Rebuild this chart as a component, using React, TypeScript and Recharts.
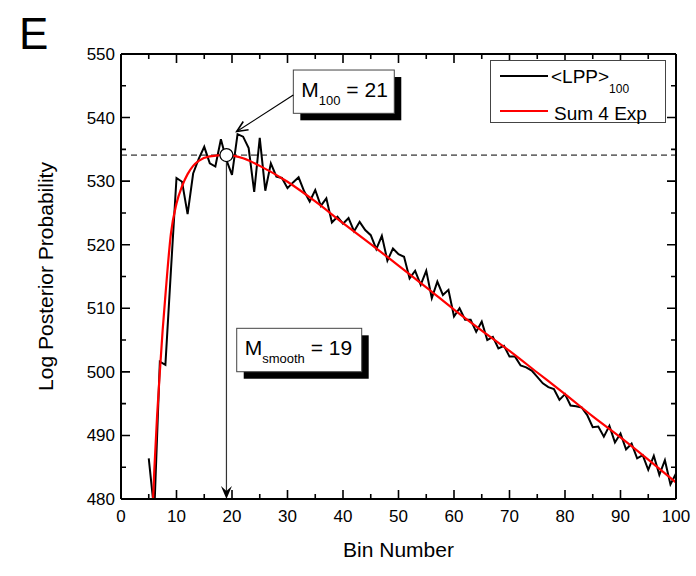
import {
  LineChart,
  Line,
  XAxis,
  YAxis,
  ReferenceLine,
  ReferenceDot,
  ReferenceArea,
  Legend,
} from "recharts";

const FONT = "'Liberation Sans', Arial, Helvetica, sans-serif";

// <LPP>_100, one value per bin starting at bin 5
const lppStartBin = 5;
const lppValues = [
  486.4, 478, 501.6, 501.1, 516, 530.5, 529.9, 524.8, 531.2, 533.5,
  535.4, 532.8, 532.3, 536.6, 533.3, 531, 537.4, 537, 535.2, 528.3,
  536.8, 528.5, 532.8, 530.7, 530.5, 528.9, 529.8, 530.6, 528.4, 526.8,
  528.6, 526.1, 527.3, 523.5, 524.4, 523.3, 524.2, 522.1, 523.6, 522.3,
  521.5, 519.3, 521.4, 517.5, 519.4, 518.5, 518.1, 514.7, 515.9, 513.7,
  515.9, 511.6, 514.2, 512.1, 512.9, 508.7, 510, 508.2, 508.2, 506.3,
  507.9, 505, 505.5, 503.7, 504.1, 502.4, 502.4, 501, 500.7, 500.2,
  499.2, 498.2, 497.6, 497.3, 495.6, 496.5, 494.7, 494.6, 494.4, 493.2,
  491.3, 491.4, 489.8, 491.5, 488.9, 490.3, 487.8, 488.7, 486.4, 486.9,
  484.6, 486.8, 483.8, 486.1, 482.3, 484,
];

// Sum 4 Exp fit, read at these bins
const fitBins = [
  5.5, 6, 6.5, 7, 7.5, 8, 9, 10, 11, 12, 13, 14, 16, 19, 22, 25, 30, 35, 40,
  45, 50, 55, 60, 65, 70, 75, 80, 85, 90, 95, 100,
];
const fitValues = [
  474, 484.5, 493, 500, 506.5, 512, 521.8, 526.5, 529.2, 531.1, 532.4, 533.2,
  533.9, 534.1, 533.6, 532.4, 529.9, 526.8, 523.4, 520.1, 516.7, 513.3, 509.8,
  506.5, 503.3, 499.9, 496.5, 493.0, 489.7, 486.2, 482.6,
];

const xTicks = [0, 5, 10, 15, 20, 25, 30, 35, 40, 45, 50, 55, 60, 65, 70, 75, 80, 85, 90, 95, 100];
const yTicks = [480, 485, 490, 495, 500, 505, 510, 515, 520, 525, 530, 535, 540, 545, 550];
const xDomain = [0, 100];
const yDomain = [480, 550];

const maxLevel = 534.1;
const mSmooth = 19;
const m100 = 21;
const m100Peak = 537.8;

const lppData = lppValues.map((v, i) => ({ bin: lppStartBin + i, lpp: v }));
const fitData = fitBins.map((b, i) => ({ bin: b, fit: fitValues[i] }));

// layout
const W = 696;
const H = 576;
const margin = { top: 53, right: 19, bottom: 0, left: 0 };
const Y_AXIS_W = 121;
const X_AXIS_H = 77;
const TOP_AXIS_H = 1;
const RIGHT_AXIS_W = 1;
const plotLeft = margin.left + Y_AXIS_W;
const plotRight = W - margin.right - RIGHT_AXIS_W;
const plotTop = margin.top + TOP_AXIS_H;
const plotBottom = H - margin.bottom - X_AXIS_H;

const tickLen = (v: number) => (v % 10 === 0 ? 9 : 5);

// inward tick marks on all four sides of the frame
function FrameTicks() {
  const sx = (v: number) => plotLeft + ((v - xDomain[0]) / (xDomain[1] - xDomain[0])) * (plotRight - plotLeft);
  const sy = (v: number) => plotBottom - ((v - yDomain[0]) / (yDomain[1] - yDomain[0])) * (plotBottom - plotTop);
  let d = "";
  xTicks.forEach((v) => {
    const x = sx(v);
    d += `M${x},${plotBottom}v${-tickLen(v)}M${x},${plotTop}v${tickLen(v)}`;
  });
  yTicks.forEach((v) => {
    const y = sy(v);
    d += `M${plotLeft},${y}h${tickLen(v)}M${plotRight},${y}h${-tickLen(v)}`;
  });
  return (
    <svg width={W} height={H} style={{ position: "absolute", left: 0, top: 0, pointerEvents: "none", zIndex: 1 }}>
      <path d={d} stroke="#000" strokeWidth={1.6} fill="none" />
    </svg>
  );
}

const bottomLabel = (props: any) => {
  const v = props.payload.value;
  if (v % 10 !== 0) return <g />;
  return (
    <text x={props.x} y={props.y + 11} dy="0.71em" textAnchor="middle" fontSize={17} fontFamily={FONT} fill="#000">
      {v}
    </text>
  );
};
const leftLabel = (props: any) => {
  const v = props.payload.value;
  if (v % 10 !== 0) return <g />;
  return (
    <text x={props.x - 6} y={props.y} dy="0.35em" textAnchor="end" fontSize={17} fontFamily={FONT} fill="#000">
      {v}
    </text>
  );
};
const yTitle = (p: any) => {
  const vb = p.viewBox;
  const cx = vb.x + 53;
  const cy = vb.y + vb.height / 2;
  return (
    <text x={cx} y={cy} textAnchor="middle" transform={`rotate(-90, ${cx}, ${cy})`} fontSize={21} fontFamily={FONT} fill="#000">
      Log Posterior Probability
    </text>
  );
};

function boxShape(main: string, sub: string, rest: string) {
  return (p: any) => {
    const { x, y, width, height } = p;
    return (
      <g>
        <rect x={x + 7} y={y + 7} width={width} height={height} fill="#000" />
        <rect x={x} y={y} width={width} height={height} fill="#fff" stroke="#444" strokeWidth={1} />
        <text x={x + 8} y={y + 26.5} fontSize={21} fontFamily={FONT} fill="#000">
          {main}
          <tspan fontSize={13} dy={8}>{sub}</tspan>
          <tspan dy={-8}>{rest}</tspan>
        </text>
      </g>
    );
  };
}
const m100Box = boxShape("M", "100", " = 21");
const mSmoothBox = boxShape("M", "smooth", " = 19");

const downArrow = (p: any) => {
  const { x1, y1, x2, y2 } = p;
  const top = Math.min(y1, y2);
  const bot = Math.max(y1, y2);
  return (
    <g>
      <line x1={x1} x2={x2} y1={top} y2={bot - 6} stroke="#333" strokeWidth={1.2} />
      <path d={`M${x2},${bot} L${x2 - 5.5},${bot - 13} L${x2},${bot - 8} L${x2 + 5.5},${bot - 13} Z`} fill="#000" />
    </g>
  );
};

const pointerArrow = (p: any) => {
  const { x1, y1, x2, y2 } = p;
  // x1,y1 = box corner, x2,y2 = tip
  const ang = Math.atan2(y1 - y2, x1 - x2);
  const a = 0.42;
  const L = 12;
  return (
    <g fill="none" stroke="#000" strokeWidth={1.2}>
      <line x1={x1} y1={y1} x2={x2} y2={y2} />
      <path
        d={`M${x2 + L * Math.cos(ang - a)},${y2 + L * Math.sin(ang - a)} L${x2},${y2} L${x2 + L * Math.cos(ang + a)},${y2 + L * Math.sin(ang + a)}`}
        strokeWidth={1.6}
      />
    </g>
  );
};

const legendText: any = { position: "absolute", fontSize: 19, lineHeight: "19px", fontFamily: FONT, color: "#000", whiteSpace: "nowrap" };

const LegendBox = () => (
  <div style={{ position: "relative", width: 176, height: 63, boxSizing: "border-box", border: "1px solid #444", background: "#fff" }}>
    <div style={{ position: "absolute", left: 9, top: 14, width: 48, height: 2, background: "#000" }} />
    <div style={{ ...legendText, left: 60, top: 6 }}>
      {"<LPP>"}
      <span style={{ fontSize: 12, position: "relative", top: 9.5 }}>100</span>
    </div>
    <div style={{ position: "absolute", left: 9, top: 48.5, width: 48, height: 2, background: "#f00" }} />
    <div style={{ ...legendText, left: 63, top: 43 }}>Sum 4 Exp</div>
  </div>
);

const axisLine = { stroke: "#000", strokeWidth: 2 };

export default function App() {
  return (
    <div style={{ position: "absolute", left: 0, top: 0, width: W, height: H, fontFamily: FONT }}>
      <div style={{ position: "absolute", left: 19, top: 12, width: 40, height: 44, fontSize: 44, lineHeight: 1, fontFamily: FONT }}>E</div>
      <LineChart width={W} height={H} margin={margin}>
        <XAxis
          type="number"
          dataKey="bin"
          domain={xDomain}
          ticks={xTicks}
          interval={0}
          allowDataOverflow
          height={X_AXIS_H}
          tickSize={0}
          tickMargin={0}
          tickLine={false}
          axisLine={axisLine}
          tick={bottomLabel}
          label={{ value: "Bin Number", position: "insideBottom", offset: 19, fontSize: 21, fontFamily: FONT, fill: "#000" }}
        />
        <XAxis
          xAxisId="top"
          orientation="top"
          type="number"
          domain={xDomain}
          allowDataOverflow
          height={TOP_AXIS_H}
          tickLine={false}
          tick={false}
          axisLine={axisLine}
        />
        <YAxis
          type="number"
          domain={yDomain}
          ticks={yTicks}
          interval={0}
          allowDataOverflow
          width={Y_AXIS_W}
          tickSize={0}
          tickMargin={0}
          tickLine={false}
          axisLine={axisLine}
          tick={leftLabel}
          label={{ content: yTitle }}
        />
        <YAxis
          yAxisId="right"
          orientation="right"
          type="number"
          domain={yDomain}
          allowDataOverflow
          width={RIGHT_AXIS_W}
          tickLine={false}
          tick={false}
          axisLine={axisLine}
        />
        <ReferenceLine y={maxLevel} stroke="#000" strokeWidth={1} strokeDasharray="6 4" />
        <Line
          data={lppData}
          dataKey="lpp"
          type="linear"
          stroke="#000"
          strokeWidth={2}
          dot={false}
          activeDot={false}
          isAnimationActive={false}
        />
        <Line
          data={fitData}
          dataKey="fit"
          type="monotone"
          stroke="#f00"
          strokeWidth={2.2}
          dot={false}
          activeDot={false}
          isAnimationActive={false}
        />
        <ReferenceLine
          segment={[
            { x: mSmooth, y: maxLevel },
            { x: mSmooth, y: 480 },
          ]}
          shape={downArrow}
        />
        <ReferenceLine
          segment={[
            { x: 31.05, y: 543.55 },
            { x: m100 - 0.15, y: m100Peak },
          ]}
          shape={pointerArrow}
        />
        <ReferenceDot x={mSmooth} y={maxLevel} r={6.5} fill="#fff" stroke="#000" strokeWidth={1.2} />
        <ReferenceArea x1={31.05} x2={49.24} y1={540.67} y2={547.48} shape={m100Box} />
        <ReferenceArea x1={20.85} x2={43.37} y1={500.02} y2={506.85} shape={mSmoothBox} />
        <Legend
          layout="vertical"
          align="center"
          verticalAlign="middle"
          wrapperStyle={{ position: "absolute", left: 490, top: 60, width: 176, height: 63, zIndex: 2 }}
          content={LegendBox}
        />
      </LineChart>
      <FrameTicks />
    </div>
  );
}
